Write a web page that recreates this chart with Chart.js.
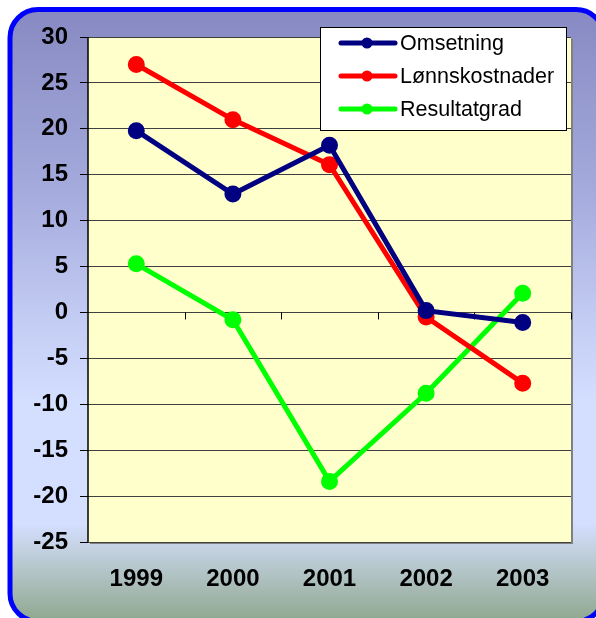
<!DOCTYPE html>
<html>
<head>
<meta charset="utf-8">
<script src="https://cdn.jsdelivr.net/npm/chart.js@4/dist/chart.umd.min.js"></script>
<style>
  html, body { margin: 0; padding: 0; background: #ffffff; }
  #wrap { width: 596px; height: 618px; position: relative; }
</style>
</head>
<body>
<div id="wrap"><canvas id="c" width="596" height="618"></canvas></div>
<script>
const years = ['1999', '2000', '2001', '2002', '2003'];
const seriesNames = ['Omsetning', 'Lønnskostnader', 'Resultatgrad'];
const omsetning = [19.8, 12.9, 18.2, 0.2, -1.1];
const lonnskostnader = [27.0, 21.0, 16.1, -0.5, -7.7];
const resultatgrad = [5.3, -0.8, -18.4, -8.8, 2.1];
const seriesColors = ['#000080', '#FF0000', '#00FF00'];
const yMin = -25, yMax = 30, yStep = 5;

const FONT = '"Liberation Sans", Arial, sans-serif';

const bgPlugin = {
  id: 'bg',
  beforeDraw(chart) {
    const ctx = chart.ctx;
    const W = chart.width, H = chart.height;
    ctx.save();
    ctx.fillStyle = '#ffffff';
    ctx.fillRect(0, 0, W, H);
    const x = 10, y = 9.5, w = 594, h = 612, r = 28;
    const g = ctx.createLinearGradient(0, y, 0, y + h);
    g.addColorStop(0, '#878AC2');
    g.addColorStop(0.3, '#A5ABDD');
    g.addColorStop(0.5, '#C2CBF2');
    g.addColorStop(0.64, '#D4DEFF');
    g.addColorStop(0.84, '#D4DEFF');
    g.addColorStop(0.88, '#C4D2E2');
    g.addColorStop(1.0, '#8FA78E');
    ctx.beginPath();
    ctx.roundRect(x, y, w, h, r);
    ctx.fillStyle = g;
    ctx.fill();
    ctx.lineWidth = 5;
    ctx.strokeStyle = '#0000FF';
    ctx.stroke();
    // plot area
    const a = chart.chartArea;
    ctx.fillStyle = '#808080';
    ctx.fillRect(a.left + 2, a.top + 2, a.right - a.left, a.bottom - a.top);
    ctx.fillStyle = '#FFFFCC';
    ctx.fillRect(a.left, a.top, a.right - a.left, a.bottom - a.top);
    ctx.restore();
  },
  beforeDatasetsDraw(chart) {
    const ctx = chart.ctx;
    const a = chart.chartArea;
    const ys = chart.scales.y;
    const xs = chart.scales.x;
    ctx.save();
    // left axis line
    ctx.strokeStyle = '#000000';
    ctx.lineWidth = 1.5;
    ctx.beginPath();
    ctx.moveTo(a.left, a.top);
    ctx.lineTo(a.left, a.bottom);
    ctx.stroke();
    // category tick marks on zero line
    const y0 = ys.getPixelForValue(0);
    ctx.lineWidth = 1;
    ctx.strokeStyle = '#000000';
    const n = years.length;
    const step = xs.getPixelForValue(1) - xs.getPixelForValue(0);
    for (let i = 1; i <= n; i++) {
      const px = xs.getPixelForValue(i - 1) + step / 2;
      ctx.beginPath();
      ctx.moveTo(Math.round(px) + 0.5, y0);
      ctx.lineTo(Math.round(px) + 0.5, y0 + 7);
      ctx.stroke();
    }
    ctx.restore();
  },
  afterDraw(chart) {
    const ctx = chart.ctx;
    ctx.save();
    const bx = 320.5, by = 27.5, bw = 246, bh = 103;
    ctx.fillStyle = '#ffffff';
    ctx.fillRect(bx, by, bw, bh);
    ctx.strokeStyle = '#000000';
    ctx.lineWidth = 1;
    ctx.strokeRect(bx, by, bw, bh);
    chart.data.datasets.forEach((ds, i) => {
      const cy = 43 + i * 33;
      ctx.strokeStyle = ds.borderColor;
      ctx.lineWidth = 5;
      ctx.lineCap = 'round';
      ctx.beginPath();
      ctx.moveTo(341, cy);
      ctx.lineTo(395, cy);
      ctx.stroke();
      ctx.fillStyle = ds.borderColor;
      ctx.beginPath();
      ctx.arc(367, cy, 5.5, 0, Math.PI * 2);
      ctx.fill();
      ctx.fillStyle = '#000000';
      ctx.font = '21.5px ' + FONT;
      ctx.textBaseline = 'middle';
      ctx.textAlign = 'left';
      ctx.fillText(ds.label, 400, cy + 1);
    });
    ctx.restore();
  }
};

const datasets = [omsetning, lonnskostnader, resultatgrad].map((vals, i) => ({
  label: seriesNames[i],
  data: vals,
  borderColor: seriesColors[i],
  backgroundColor: seriesColors[i],
  pointBackgroundColor: seriesColors[i],
  pointBorderColor: seriesColors[i],
  borderWidth: 5,
  pointRadius: 6,
  pointHoverRadius: 6,
  tension: 0,
  fill: false
}));

new Chart(document.getElementById('c'), {
  type: 'line',
  data: { labels: years, datasets },
  options: {
    responsive: false,
    animation: false,
    devicePixelRatio: 1,
    layout: { padding: { left: 0, right: 25, top: 37, bottom: 0 } },
    plugins: { legend: { display: false }, tooltip: { enabled: false } },
    scales: {
      x: {
        type: 'category',
        offset: true,
        grid: { display: false, drawTicks: false },
        border: { display: false },
        ticks: { color: '#000000', font: { family: FONT, size: 24, weight: 'bold' }, padding: 23, maxRotation: 0 },
        afterFit(s) { s.height = 76; }
      },
      y: {
        min: yMin,
        max: yMax,
        ticks: { stepSize: yStep, color: '#000000', font: { family: FONT, size: 24, weight: 'bold' }, padding: 12 },
        grid: { color: '#404040', lineWidth: 1, tickLength: 8, tickColor: '#000000' },
        border: { display: false },
        afterFit(s) { s.width = 88; }
      }
    }
  },
  plugins: [bgPlugin]
});
</script>
</body>
</html>
